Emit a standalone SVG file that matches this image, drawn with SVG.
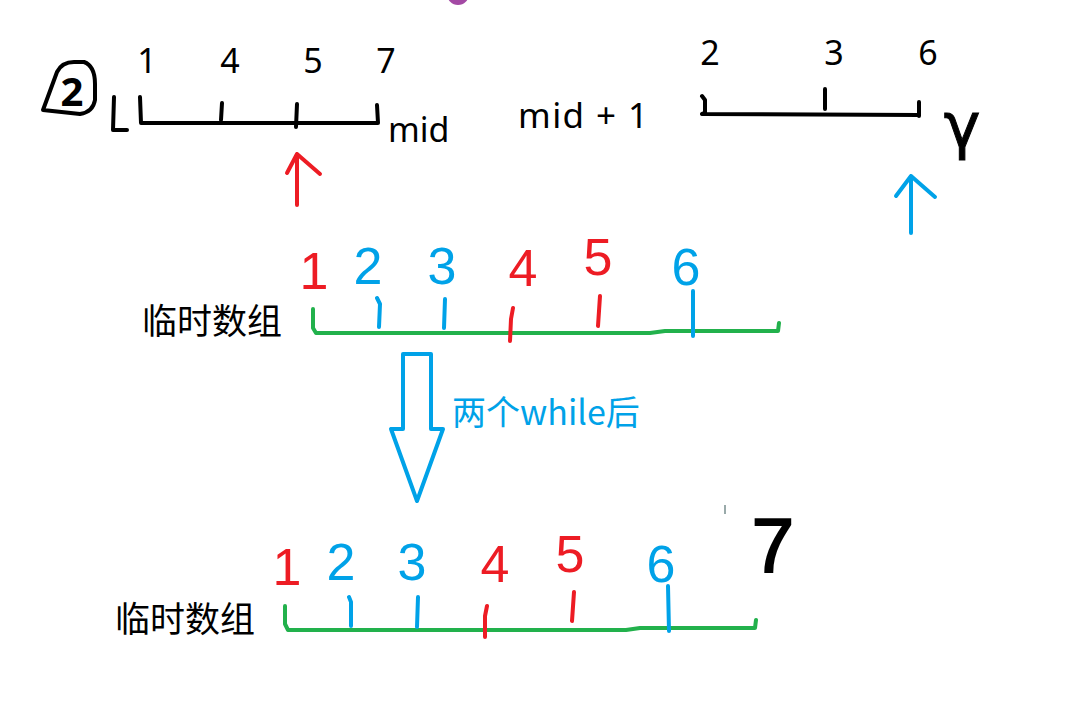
<svg xmlns="http://www.w3.org/2000/svg" width="1080" height="715" viewBox="0 0 1080 715">
<style>
.lbl{font-family:"Noto Sans","Open Sans","Liberation Sans",sans-serif;fill:#000}
.cjk{font-family:"Noto Sans CJK SC","Noto Sans",sans-serif;fill:#000}
.hw{font-family:"Liberation Sans","DejaVu Sans",sans-serif;font-size:52px;text-anchor:middle}
.r{fill:#ED1C24}
.b{fill:#00A2E8}
.k{fill:#000}
.sk{fill:none;stroke:#000;stroke-width:4;stroke-linecap:round;stroke-linejoin:round}
.sr{fill:none;stroke:#ED1C24;stroke-width:4;stroke-linecap:round;stroke-linejoin:round}
.sb{fill:none;stroke:#00A2E8;stroke-width:4;stroke-linecap:round;stroke-linejoin:round}
.sg{fill:none;stroke:#22B14C;stroke-width:4;stroke-linecap:round;stroke-linejoin:round}
</style>
<rect width="1080" height="715" fill="#fff"/>
<circle cx="458" cy="-6" r="11" fill="#A349A4"/>

<g id="left-half">
  <path class="sk" d="M43,110 L57,72 Q62,62 74,62 L84,62 Q95,66 95,84 L95,100 Q93,112 80,114 Z"/>
  <text class="lbl" x="72" y="106" font-size="40" font-weight="bold" text-anchor="middle">2</text>
  <path class="sk" d="M114,97 L113,130 L127,130"/>
  <g class="lbl" font-size="34" text-anchor="middle">
    <text x="147" y="73">1</text>
    <text x="230" y="73">4</text>
    <text x="313" y="73">5</text>
    <text x="386" y="73">7</text>
  </g>
  <path class="sk" d="M140,97 L141,123 L378,123 M222,103 L221,120 M297,104 L296,127 M377,105 L378,123"/>
  <text class="lbl" x="388" y="142" font-size="34">mid</text>
</g>

<g id="right-half">
  <text class="lbl" x="518" y="128" font-size="35" textLength="130">mid + 1</text>
  <g class="lbl" font-size="34" text-anchor="middle">
    <text x="710" y="65">2</text>
    <text x="834" y="65">3</text>
    <text x="928" y="65">6</text>
  </g>
  <path class="sk" d="M702,96 L705,100 L705,113 L702,114 L919,115 M825,89 L825,109 M919,102 L919,116"/>
  <text x="962" y="147" font-family="DejaVu Sans,sans-serif" font-size="62" text-anchor="middle" fill="#000" stroke="#000" stroke-width="1">γ</text>
</g>

<g id="temp-array-1">
  <text class="cjk" x="142" y="334" font-size="35">临时数组</text>
  <path class="sg" d="M313,309 L313,328 L316,333 L650,333 L665,331 L778,331 L779,323"/>
  <path class="sb" d="M377,298 L380,304 L379,327 M445,299 L444,328 M693,291 L693,336"/>
  <path class="sr" d="M513,308 L511,319 L510,341 M600,296 L598,326"/>
  <text class="hw r" x="314" y="289">1</text>
  <text class="hw b" x="368" y="284">2</text>
  <text class="hw b" x="442" y="284">3</text>
  <text class="hw r" x="523" y="286">4</text>
  <text class="hw r" x="598" y="275">5</text>
  <text class="hw b" x="686" y="285">6</text>
</g>

<g id="connectors">
  <path class="sr" d="M297,205 L297,154 M287,173 L297,154 L320,174"/>
  <path class="sb" d="M911,233 L911,176 M896,196 L911,176 L935,197"/>
  <path class="sb" d="M403,354 L431,354 L431,429 L443,429 L417,501 L391,429 L403,429 Z"/>
  <text class="cjk" x="452" y="425" font-size="34" style="fill:#00A2E8">两个while后</text>
</g>

<g id="temp-array-2">
  <text class="cjk" x="115" y="632" font-size="35">临时数组</text>
  <path class="sg" d="M285,606 L285,624 L288,630 L626,630 L640,628 L755,628 L756,620"/>
  <path class="sb" d="M349,597 L351,602 L351,626 M418,597 L417,627 M668,586 L669,631"/>
  <path class="sr" d="M487,606 L485,616 L485,637 M574,592 L572,621"/>
  <text class="hw r" x="287" y="585">1</text>
  <text class="hw b" x="341" y="580">2</text>
  <text class="hw b" x="412" y="580">3</text>
  <text class="hw r" x="495" y="582">4</text>
  <text class="hw r" x="570" y="572">5</text>
  <text class="hw b" x="661" y="582">6</text>
  <text class="hw k" x="773" y="572" style="font-size:76px" stroke="#000" stroke-width="2">7</text>
  <path d="M725,505 L725,514" stroke="#9aa" stroke-width="2"/>
</g>
</svg>
